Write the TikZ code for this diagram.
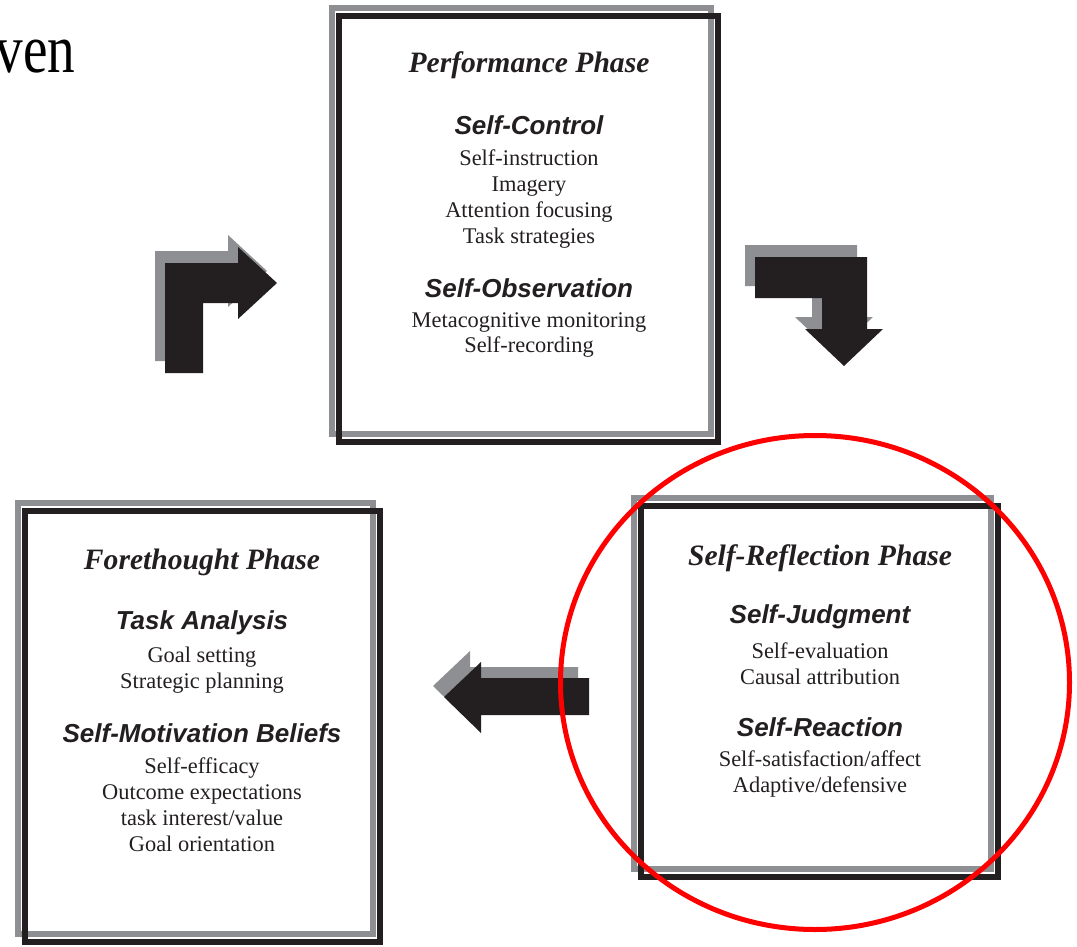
\documentclass[tikz,border=0pt]{standalone}
\usepackage{fontspec}
\setmainfont{Liberation Serif}
\setsansfont{Liberation Sans}
\usetikzlibrary{positioning}
\definecolor{ink}{HTML}{231F20}
\definecolor{shadowgray}{HTML}{8E8F93}
\definecolor{markred}{HTML}{FF0000}
\tikzstyle{title} = [font=\fontsize{14.8}{17}\selectfont\bfseries\itshape, text=ink, inner sep=0pt]
\tikzstyle{heading} = [font=\fontsize{13}{15}\selectfont\sffamily\bfseries\itshape, text=ink, inner sep=0pt]
\tikzstyle{items} = [font=\fontsize{11.2}{13}\selectfont, text=ink, align=center, inner sep=0pt]
\tikzstyle{phasebox} = [draw=ink, line width=3pt]
\tikzstyle{phasebox back} = [draw=shadowgray, line width=3pt]
\tikzstyle{block arrow} = [fill=ink]
\tikzstyle{block arrow back} = [fill=shadowgray]
\tikzstyle{highlight} = [draw=markred, line width=2.5pt]

\begin{document}
\begin{tikzpicture}[x=0.5pt, y=-0.5pt]
    \useasboundingbox (0, 0) rectangle (1077, 947);

    % Cut-off word.
    \node (ven) [anchor=base west, inner sep=0pt, font=\fontsize{34.5}{40}\selectfont] at (-5, 73) {\scalebox{0.8}[1]{ven}};

    % Boxes.
    \draw [phasebox back] (332, 8) rectangle (711, 434);
    \draw [phasebox] (339, 16) rectangle (718, 442);
    \draw [phasebox back] (18, 503) rectangle (373, 934);
    \draw [phasebox] (25, 511) rectangle (380, 942);
    \draw [phasebox back] (634, 498) rectangle (991, 869);
    \draw [phasebox] (641, 506) rectangle (998, 877);

    % Performance.
    \node (perf title) [title] at (529, 65) {Performance Phase};
    \node (self control) [heading] at (529, 125) {Self-Control};
    \node (control items) [items] at (529, 199) {Self-instruction\\Imagery\\Attention focusing\\Task strategies};
    \node (self observation) [heading] at (529, 288) {Self-Observation};
    \node (observation items) [items] at (529, 335) {Metacognitive monitoring\\Self-recording};

    % Forethought.
    \node (fore title) [title] at (202, 562) {Forethought Phase};
    \node (task analysis) [heading] at (202, 623) {Task Analysis};
    \node (analysis items) [items] at (202, 670) {Goal setting\\Strategic planning};
    \node (motivation) [heading] at (202, 733) {Self-Motivation Beliefs};
    \node (motivation items) [items] at (202, 805) {Self-efficacy\\Outcome expectations\\task interest/value\\Goal orientation};

    % Self-reflection.
    \node (refl title) [title] at (820, 558) {Self-Reflection Phase};
    \node (self judgment) [heading] at (820, 617) {Self-Judgment};
    \node (judgment items) [items] at (820, 664) {Self-evaluation\\Causal attribution};
    \node (self reaction) [heading] at (820, 727) {Self-Reaction};
    \node (reaction items) [items] at (820, 774) {Self-satisfaction/affect\\Adaptive/defensive};

    % Arrows.
    \begin{scope}[shift={(-10, -12)}]
        \fill [block arrow back] (165, 373) -- (165, 263) -- (238, 263) -- (238, 247) -- (277, 283)
            -- (238, 319) -- (238, 303) -- (203, 303) -- (203, 373) -- cycle;
        \fill [block arrow back] (755, 257) -- (867, 257) -- (867, 329) -- (883, 329) -- (844, 366)
            -- (805, 329) -- (822, 329) -- (822, 298) -- (755, 298) -- cycle;
    \end{scope}
    \fill [block arrow back] (578, 667) -- (470, 667) -- (470, 651) -- (433, 686) -- (470, 722)
        -- (470, 704) -- (578, 704) -- cycle;

    \fill [block arrow] (165, 373) -- (165, 263) -- (238, 263) -- (238, 247) -- (277, 283)
        -- (238, 319) -- (238, 303) -- (203, 303) -- (203, 373) -- cycle;
    \fill [block arrow] (755, 257) -- (867, 257) -- (867, 329) -- (883, 329) -- (844, 366)
        -- (805, 329) -- (822, 329) -- (822, 298) -- (755, 298) -- cycle;
    \fill [block arrow] (589, 678) -- (481, 678) -- (481, 662) -- (444, 697) -- (481, 733)
        -- (481, 715) -- (589, 715) -- cycle;

    % Red mark.
    \draw [highlight] (815, 682.5) ellipse [x radius=127.25pt, y radius=123.5pt];
\end{tikzpicture}
\end{document}
